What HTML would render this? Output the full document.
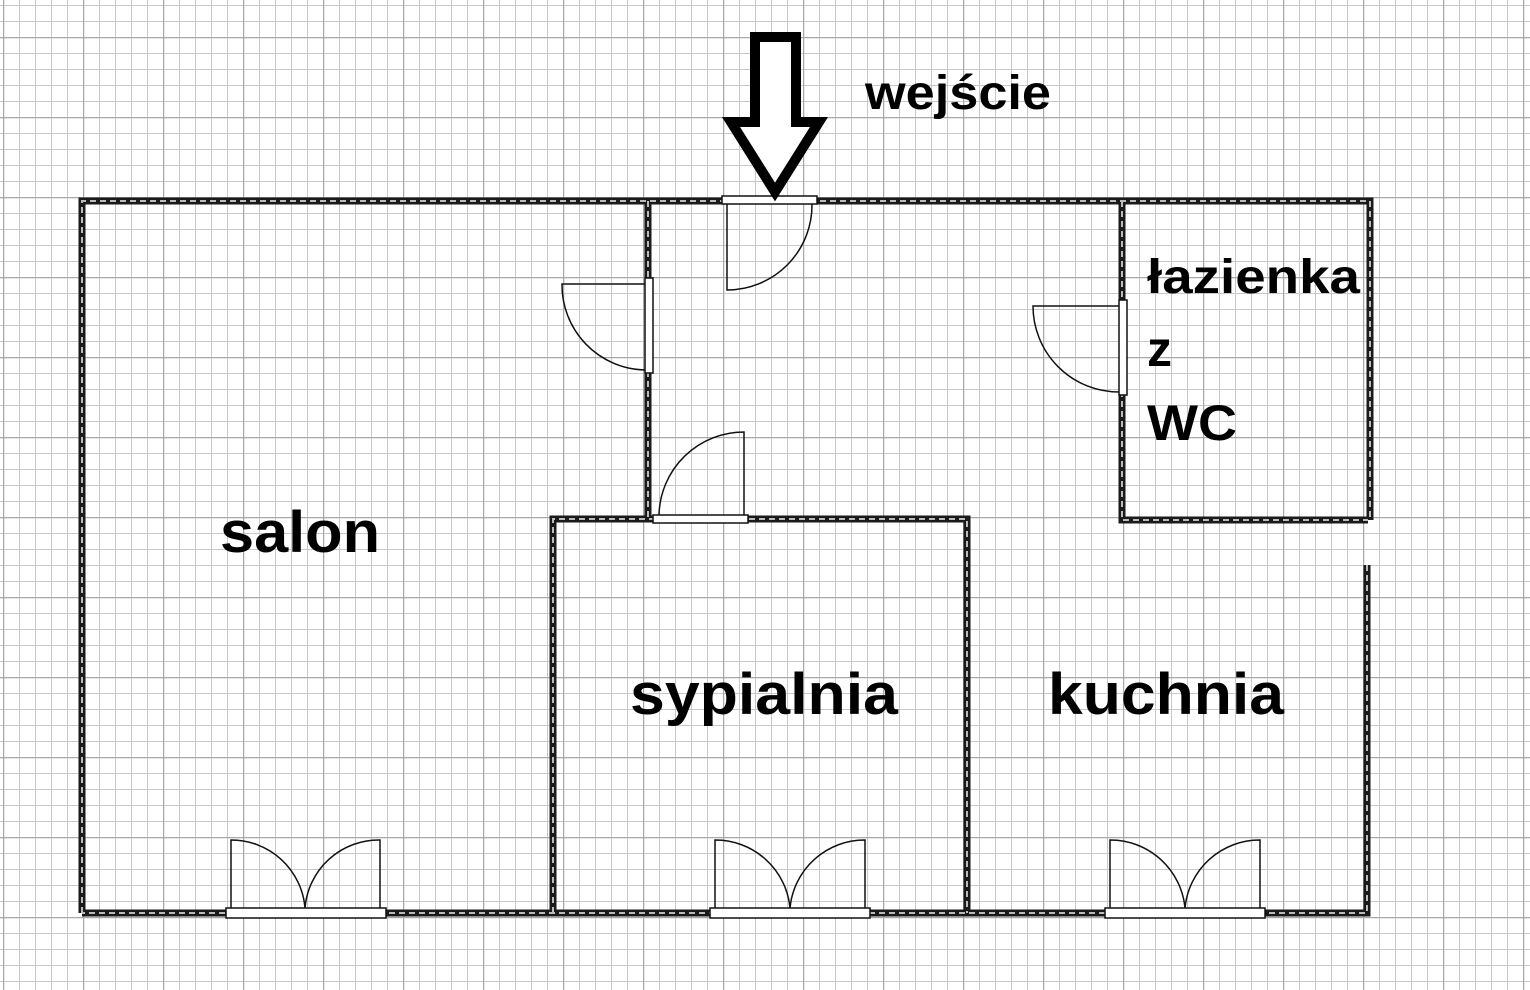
<!DOCTYPE html>
<html><head><meta charset="utf-8"><style>html,body{margin:0;padding:0;background:#fff}svg{display:block}</style></head>
<body>
<svg width="1530" height="990" viewBox="0 0 1530 990" xmlns="http://www.w3.org/2000/svg">
<defs>
<pattern id="minor" x="3" y="5" width="16" height="16" patternUnits="userSpaceOnUse">
<path d="M0 0V16M0 0H16" stroke="#c8c8c8" stroke-width="2" fill="none"/>
</pattern>
<pattern id="major" x="3" y="37" width="80" height="80" patternUnits="userSpaceOnUse">
<path d="M0 0V80M0 0H80" stroke="#a8a8a8" stroke-width="2.5" fill="none"/>
</pattern>
</defs>
<rect width="1530" height="990" fill="#fff"/>
<rect width="1530" height="990" fill="url(#minor)"/>
<rect width="1530" height="990" fill="url(#major)"/>

<g fill="none" stroke-linejoin="miter">
<g stroke="#1a1a1a" stroke-width="7">
<path d="M82 913V201H1370V520"/>
<path d="M1367 565V913H82"/>
<path d="M648 201V520"/>
<path d="M1122 201V520H1368"/>
<path d="M553 913V519H967V913"/>
</g>
<g stroke="#bbb" stroke-width="2" stroke-dasharray="6 4">
<path d="M82 913V201H1370V520"/>
<path d="M1367 565V913H82"/>
<path d="M648 201V520"/>
<path d="M1122 201V520H1368"/>
<path d="M553 913V519H967V913"/>
</g>
</g>

<g stroke="#111" stroke-width="1.5" fill="#fff">
<rect x="722" y="196" width="95" height="8"/>
<path d="M727 204V290A85 85 0 0 0 812 204" fill="none"/>
<rect x="645" y="278" width="8" height="95"/>
<path d="M645 284H562A85 85 0 0 0 645 370" fill="none"/>
<rect x="1119" y="300" width="8" height="95"/>
<path d="M1119 306H1033A86 86 0 0 0 1119 392" fill="none"/>
<rect x="653" y="515" width="95" height="8"/>
<path d="M744 515V432A85 85 0 0 0 659 515" fill="none"/>
<g fill="none">
<path d="M231 908V840A74 74 0 0 1 305 908A74 74 0 0 1 380 840V908"/>
<path d="M715 908V840A75 75 0 0 1 790 908A75 75 0 0 1 865 840V908"/>
<path d="M1110 908V840A75 75 0 0 1 1185 908A75 75 0 0 1 1260 840V908"/>
</g>
<rect x="226" y="908" width="160" height="10"/>
<rect x="710" y="908" width="160" height="10"/>
<rect x="1105" y="908" width="160" height="10"/>
</g>

<path d="M755 37H796V122H819L775 192L731 122H755Z" fill="#fff" stroke="#000" stroke-width="10" stroke-linejoin="miter"/>

<g font-family="'Liberation Sans', 'DejaVu Sans', sans-serif" font-weight="bold" fill="#000">
<text x="865" y="109" font-size="48" textLength="186" lengthAdjust="spacingAndGlyphs">wejście</text>
<text x="1147" y="293" font-size="48" textLength="213" lengthAdjust="spacingAndGlyphs">łazienka</text>
<text x="1147" y="366" font-size="50">z</text>
<text x="1147" y="440" font-size="50" textLength="90" lengthAdjust="spacingAndGlyphs">WC</text>
<text x="220" y="552" font-size="58" textLength="160" lengthAdjust="spacingAndGlyphs">salon</text>
<text x="630" y="714" font-size="58" textLength="268" lengthAdjust="spacingAndGlyphs">sypialnia</text>
<text x="1048" y="714" font-size="58" textLength="236" lengthAdjust="spacingAndGlyphs">kuchnia</text>
</g>
</svg>
</body></html>
